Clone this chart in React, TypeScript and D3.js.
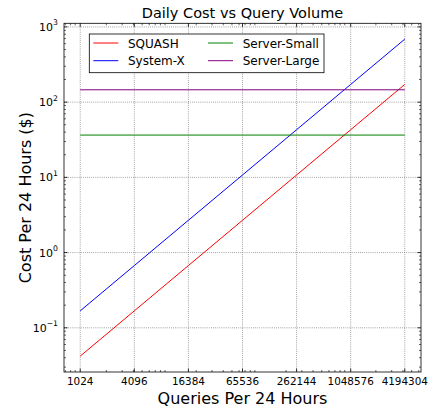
import React from "react";
import * as d3 from "d3";

const queries = [1024, 4096, 16384, 65536, 262144, 1048576, 4194304];
const squashCost = [0.042, 0.168, 0.672, 2.69, 10.75, 43.0, 172];
const systemXCost = [0.168, 0.672, 2.69, 10.75, 43.0, 172, 688];
const serverSmallCost = [36.5, 36.5, 36.5, 36.5, 36.5, 36.5, 36.5];
const serverLargeCost = [146, 146, 146, 146, 146, 146, 146];

const seriesNames = ["SQUASH", "System-X", "Server-Small", "Server-Large"];
const seriesColors = ["red", "blue", "green", "purple"];
const yTickExps = [-1, 0, 1, 2, 3];

const W = 429,
  H = 408;
const margin = { top: 23.3, right: 8, bottom: 36, left: 64 };
const FONT = "DejaVu Sans, sans-serif";

const App: React.FC = () => {
  const series = [squashCost, systemXCost, serverSmallCost, serverLargeCost];
  const innerW = W - margin.left - margin.right;
  const innerH = H - margin.top - margin.bottom;

  // log-space 5% padding like matplotlib autoscale
  const lx = d3.extent(queries).map(Math.log10) as [number, number];
  const padX = (lx[1] - lx[0]) * 0.05;
  const allY = series.flat();
  const ly = d3.extent(allY).map(Math.log10) as [number, number];
  const padY = (ly[1] - ly[0]) * 0.05;

  const x = d3
    .scaleLog()
    .domain([10 ** (lx[0] - padX), 10 ** (lx[1] + padX)])
    .range([0, innerW]);
  const y = d3
    .scaleLog()
    .domain([10 ** (ly[0] - padY), 10 ** (ly[1] + padY)])
    .range([innerH, 0]);

  const line = d3
    .line<number>()
    .x((_, i) => x(queries[i]))
    .y((d) => y(d));

  const xMinor: number[] = [];
  const yMinor: number[] = [];
  for (let e = -3; e <= 7; e++) {
    for (let k = 2; k <= 9; k++) {
      const v = k * 10 ** e;
      if (v > x.domain()[0] && v < x.domain()[1]) xMinor.push(v);
      if (v > y.domain()[0] && v < y.domain()[1]) yMinor.push(v);
    }
  }

  const gridStyle = {
    stroke: "#707070",
    strokeWidth: 0.8,
    strokeDasharray: "0.8,1.3",
  };

  return (
    <svg
      width={W}
      height={H}
      style={{ position: "absolute", left: 0, top: 0, background: "white" }}
      fontFamily={FONT}
    >
      <text
        x={margin.left + innerW / 2}
        y={18}
        textAnchor="middle"
        fontSize={14.5}
      >
        Daily Cost vs Query Volume
      </text>
      <g transform={`translate(${margin.left},${margin.top})`}>
        {/* grid */}
        {queries.map((q) => (
          <line key={"gx" + q} x1={x(q)} x2={x(q)} y1={0} y2={innerH} {...gridStyle} />
        ))}
        {yTickExps.map((e) => (
          <line key={"gy" + e} x1={0} x2={innerW} y1={y(10 ** e)} y2={y(10 ** e)} {...gridStyle} />
        ))}

        {/* series */}
        {series.map((s, i) => (
          <path
            key={seriesNames[i]}
            d={line(s)!}
            fill="none"
            stroke={seriesColors[i]}
            strokeWidth={1}
          />
        ))}

        {/* ticks, inward on all sides */}
        {queries.map((q) => (
          <g key={"tx" + q} stroke="black" strokeWidth={0.8}>
            <line x1={x(q)} x2={x(q)} y1={innerH} y2={innerH - 3.5} />
            <line x1={x(q)} x2={x(q)} y1={0} y2={3.5} />
          </g>
        ))}
        {xMinor.map((v) => (
          <g key={"mx" + v} stroke="black" strokeWidth={0.6}>
            <line x1={x(v)} x2={x(v)} y1={innerH} y2={innerH - 2} />
            <line x1={x(v)} x2={x(v)} y1={0} y2={2} />
          </g>
        ))}
        {yTickExps.map((e) => (
          <g key={"ty" + e} stroke="black" strokeWidth={0.8}>
            <line x1={0} x2={3.5} y1={y(10 ** e)} y2={y(10 ** e)} />
            <line x1={innerW} x2={innerW - 3.5} y1={y(10 ** e)} y2={y(10 ** e)} />
          </g>
        ))}
        {yMinor.map((v) => (
          <g key={"my" + v} stroke="black" strokeWidth={0.6}>
            <line x1={0} x2={2} y1={y(v)} y2={y(v)} />
            <line x1={innerW} x2={innerW - 2} y1={y(v)} y2={y(v)} />
          </g>
        ))}

        <rect x={0} y={0} width={innerW} height={innerH} fill="none" stroke="black" strokeWidth={0.8} />

        {/* tick labels */}
        {queries.map((q) => (
          <text key={"lx" + q} x={x(q)} y={innerH + 13.5} textAnchor="middle" fontSize={10.4}>
            {q}
          </text>
        ))}
        {yTickExps.map((e) => (
          <text key={"ly" + e} x={-6} y={y(10 ** e) + 4} textAnchor="end" fontSize={11}>
            10
            <tspan dy={-5.5} fontSize={7.7}>
              {e < 0 ? "\u2212" + -e : e}
            </tspan>
          </text>
        ))}

        {/* legend */}
        <g transform="translate(25.3,10.7)">
          <rect x={0} y={0} width={234.7} height={38.7} fill="white" stroke="black" strokeWidth={0.8} />
          {seriesNames.map((name, i) => {
            const col = Math.floor(i / 2);
            const row = i % 2;
            const lx0 = 4 + col * 114.7;
            const ly0 = 9 + row * 17.7;
            return (
              <g key={"lg" + name}>
                <line x1={lx0} x2={lx0 + 25} y1={ly0} y2={ly0} stroke={seriesColors[i]} strokeWidth={1} />
                <text x={lx0 + 34.7} y={ly0 + 4.5} fontSize={12}>
                  {name}
                </text>
              </g>
            );
          })}
        </g>
      </g>
      <text
        x={margin.left + innerW / 2}
        y={403.5}
        textAnchor="middle"
        fontSize={16}
      >
        Queries Per 24 Hours
      </text>
      <text
        transform={`translate(31,${margin.top + innerH / 2}) rotate(-90)`}
        textAnchor="middle"
        fontSize={16}
      >
        Cost Per 24 Hours ($)
      </text>
    </svg>
  );
};

export default App;
